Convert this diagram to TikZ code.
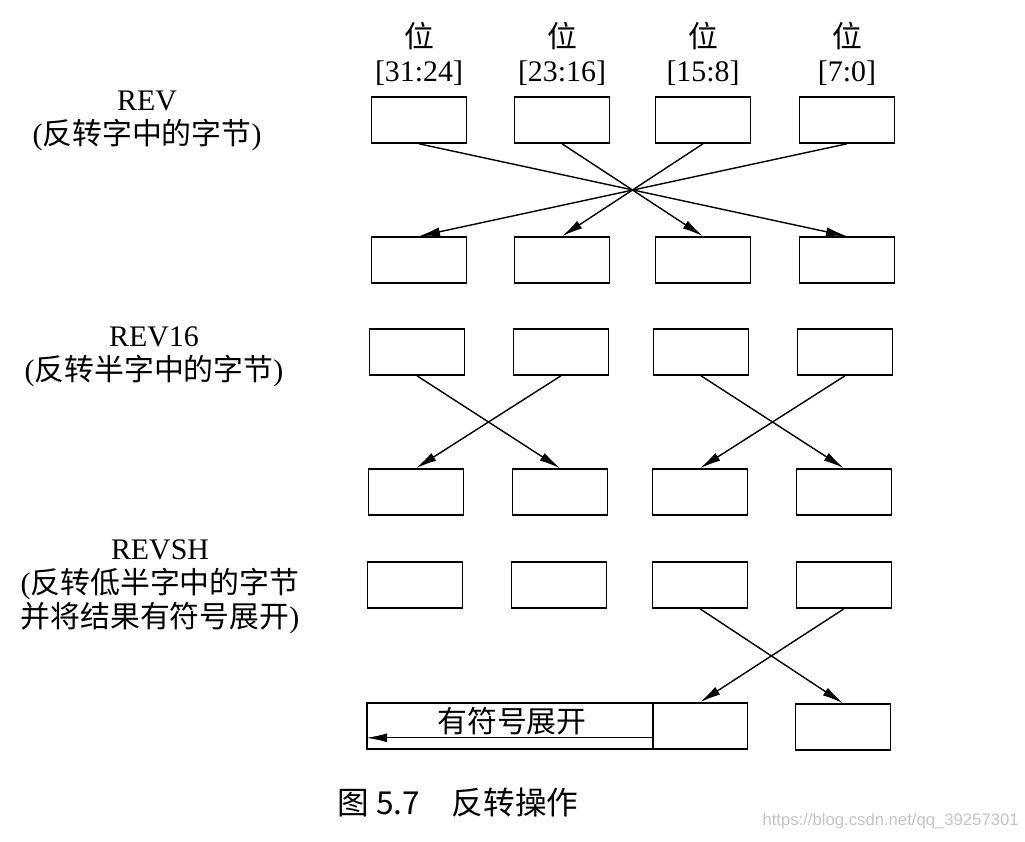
\documentclass[tikz,border=0pt]{standalone}
\usepackage{fontspec}
\setmainfont{Liberation Serif}
\newfontfamily\zhfont{Noto Sans CJK SC}
\newfontfamily\wmfont{Liberation Sans}
\usetikzlibrary{arrows.meta}
\definecolor{wmGray}{HTML}{C4C4C4}

\begin{document}
\begin{tikzpicture}[x=0.02cm, y=-0.02cm,
  byte/.style={draw, line width=0.9pt, minimum width=1.9cm, minimum height=0.92cm, inner sep=0pt},
  lbl/.style={align=center, font=\fontsize{17}{19.5}\selectfont},
  arr/.style={-{Latex[length=4.2mm, width=1.8mm]}, line width=0.8pt}
]
\useasboundingbox (0,0) rectangle (1025,842);

\node[lbl] (h1) at (419,54) {{\zhfont 位}\\{}[31:24]};
\node[lbl] (h2) at (562,54) {{\zhfont 位}\\{}[23:16]};
\node[lbl] (h3) at (703,54) {{\zhfont 位}\\{}[15:8]};
\node[lbl] (h4) at (847,54) {{\zhfont 位}\\{}[7:0]};

\node[lbl] (rev) at (147,121) {REV\\({\zhfont 反转字中的字节})};
\node[lbl] (rev16) at (154,357) {REV16\\({\zhfont 反转半字中的字节})};
\node[lbl] (revsh) at (160,587) {REVSH\\({\zhfont 反转低半字中的字节}\\{\zhfont 并将结果有符号展开})};

\node[byte] (a1) at (419,120) {};
\node[byte] (a2) at (562,120) {};
\node[byte] (a3) at (703,120) {};
\node[byte] (a4) at (847,120) {};
\node[byte] (b1) at (419,260) {};
\node[byte] (b2) at (562,260) {};
\node[byte] (b3) at (703,260) {};
\node[byte] (b4) at (847,260) {};

\draw[arr] (a1.south) -- (b4.north);
\draw[arr] (a2.south) -- (b3.north);
\draw[arr] (a3.south) -- (b2.north);
\draw[arr] (a4.south) -- (b1.north);

\node[byte] (c1) at (417,352) {};
\node[byte] (c2) at (561,352) {};
\node[byte] (c3) at (701,352) {};
\node[byte] (c4) at (845,352) {};
\node[byte] (d1) at (416,492) {};
\node[byte] (d2) at (560,492) {};
\node[byte] (d3) at (700,492) {};
\node[byte] (d4) at (844,492) {};

\draw[arr] (c1.south) -- (d2.north);
\draw[arr] (c2.south) -- (d1.north);
\draw[arr] (c3.south) -- (d4.north);
\draw[arr] (c4.south) -- (d3.north);

\node[byte] (e1) at (415,585) {};
\node[byte] (e2) at (559,585) {};
\node[byte] (e3) at (700,585) {};
\node[byte] (e4) at (844,585) {};
\node[byte, minimum width=5.72cm] (ext) at (510,726) {};
\node[byte] (f3) at (700,726) {};
\node[byte] (f4) at (843,727) {};

\draw[arr] (e3.south) -- (f4.north);
\draw[arr] (e4.south) -- (f3.north);

\node[lbl] (sx) at (512,721) {\zhfont 有符号展开};
\path (f3.south west) ++(0,-12) coordinate (sa);
\draw[arr] (sa) -- (sa -| ext.west);

\node[font=\fontsize{18}{20}\selectfont\zhfont] (cap) at (458,803) {图 5.7\quad 反转操作};
\node[font=\fontsize{9.5}{11}\selectfont\wmfont, text=wmGray, anchor=east, inner sep=0pt] (wm) at (1019,821) {https://blog.csdn.net/qq\_39257301};
\end{tikzpicture}
\end{document}
